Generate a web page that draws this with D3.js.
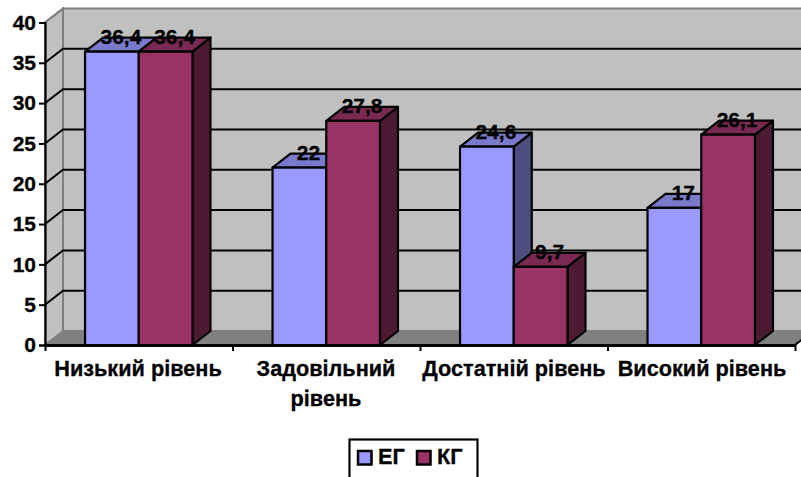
<!DOCTYPE html>
<html>
<head>
<meta charset="utf-8">
<script src="https://cdn.jsdelivr.net/npm/d3@7"></script>
<style>
html,body{margin:0;padding:0;background:#fff;overflow:hidden}
svg{display:block}
text{font-family:"Liberation Sans",Arial,sans-serif;font-weight:bold;fill:#000;stroke:#000;stroke-width:.3px}
</style>
</head>
<body>
<svg id="chart" width="801" height="477"></svg>
<script>
const categories = [["Низький рівень"], ["Задовільний", "рівень"], ["Достатній рівень"], ["Високий рівень"]];
const seriesNames = ["ЕГ", "КГ"];
const egValues = [36.4, 22, 24.6, 17];
const kgValues = [36.4, 27.8, 9.7, 26.1];
const valueLabels = [["36,4", "22", "24,6", "17"], ["36,4", "27,8", "9,7", "26,1"]];
const yTicks = [0, 5, 10, 15, 20, 25, 30, 35, 40];

const frontFill = ["#9999FF", "#993366"];
const topFill = ["#7A7ACC", "#7A2952"];
const sideFill = ["#4D4D80", "#4D1A33"];

const svg = d3.select("#chart");
const plotLeft = 45, plotRight = 795, plotBottom = 345, plotTop = 22.5;
const depthX = 18, depthY = -14;

const y = d3.scaleLinear().domain([0, 40]).range([plotBottom, plotTop]);
const x = d3.scaleBand().domain(d3.range(categories.length)).range([plotLeft, plotRight]).paddingInner(0.4269).paddingOuter(0.2135);
const inner = d3.scaleBand().domain([0, 1]).range([0, x.bandwidth()]);
const poly = pts => pts.map(p => p.join(",")).join(" ");

// Walls and floor of the 3D box
svg.append("polygon").attr("points", poly([[plotLeft + depthX, plotTop + depthY], [plotRight + depthX, plotTop + depthY], [plotRight + depthX, plotBottom + depthY], [plotLeft + depthX, plotBottom + depthY]]))
  .attr("fill", "#C0C0C0").attr("stroke", "#808080").attr("stroke-width", 2);
svg.append("polygon").attr("points", poly([[plotLeft, plotTop], [plotLeft + depthX, plotTop + depthY], [plotLeft + depthX, plotBottom + depthY], [plotLeft, plotBottom]]))
  .attr("fill", "#C0C0C0").attr("stroke", "#808080").attr("stroke-width", 2);
svg.append("polygon").attr("points", poly([[plotLeft, plotBottom], [plotLeft + depthX, plotBottom + depthY], [plotRight + depthX, plotBottom + depthY], [plotRight, plotBottom]]))
  .attr("fill", "#808080").attr("stroke", "#808080").attr("stroke-width", 1);

// Gridlines running along the side wall and across the back wall
const gridTicks = yTicks.filter(t => t > 0 && t < 40);
svg.append("g").selectAll("path").data(gridTicks).join("path")
  .attr("d", t => `M${plotLeft},${y(t)}L${plotLeft + depthX},${y(t) + depthY}L${plotRight + depthX},${y(t) + depthY}`)
  .attr("fill", "none").attr("stroke", "#000").attr("stroke-width", 2);
svg.append("path").attr("d", `M${plotLeft},${y(40)}L${plotLeft + depthX},${y(40) + depthY}`)
  .attr("fill", "none").attr("stroke", "#808080").attr("stroke-width", 2);

// Bars: series left to right within each category
const bars = svg.append("g").attr("stroke", "#000").attr("stroke-width", 2.2).attr("stroke-linejoin", "round");
[egValues, kgValues].forEach((vals, s) => {
  vals.forEach((v, i) => {
    const x0 = x(i) + inner(s), x1 = x0 + inner.bandwidth(), yt = y(v), yb = y(0);
    bars.append("polygon").attr("points", poly([[x1, yt], [x1 + depthX, yt + depthY], [x1 + depthX, yb + depthY], [x1, yb]])).attr("fill", sideFill[s]);
    bars.append("polygon").attr("points", poly([[x0, yt], [x0 + depthX, yt + depthY], [x1 + depthX, yt + depthY], [x1, yt]])).attr("fill", topFill[s]);
    bars.append("rect").attr("x", x0).attr("y", yt).attr("width", x1 - x0).attr("height", yb - yt).attr("fill", frontFill[s]);
  });
});

// Value labels sit over the top face of each bar
[egValues, kgValues].forEach((vals, s) => {
  svg.append("g").selectAll("text").data(vals).join("text")
    .attr("x", (v, i) => x(i) + inner(s) + inner.bandwidth() / 2 + 9)
    .attr("y", v => y(v) - 7.5)
    .attr("text-anchor", "middle").attr("font-size", 21)
    .text((v, i) => valueLabels[s][i]);
});

// Value axis
const yAxis = svg.append("g").attr("transform", `translate(${plotLeft},0)`)
  .call(d3.axisLeft(y).tickValues(yTicks).tickSize(6).tickPadding(3).tickFormat(d3.format("d")));
yAxis.select(".domain").attr("stroke", "#000").attr("stroke-width", 2.2);
yAxis.selectAll(".tick line").attr("stroke", "#000").attr("stroke-width", 2);
yAxis.selectAll("text").attr("font-size", 21).attr("font-family", '"Liberation Sans",Arial,sans-serif').attr("font-weight", "bold").attr("fill", "#000");

// Category axis with ticks on the group boundaries
const edge = d3.scaleLinear().domain([0, categories.length]).range([plotLeft, plotRight]);
const xAxis = svg.append("g").attr("transform", `translate(0,${plotBottom})`)
  .call(d3.axisBottom(edge).tickValues(d3.range(categories.length + 1)).tickSize(6).tickSizeOuter(0).tickFormat(""));
xAxis.select(".domain").attr("stroke", "#000").attr("stroke-width", 3);
xAxis.selectAll(".tick line").attr("stroke", "#000").attr("stroke-width", 2);
svg.append("path").attr("d", `M${plotRight},${plotBottom}L${plotRight + depthX},${plotBottom + depthY}`).attr("stroke", "#000").attr("stroke-width", 2);

// Category labels
const labelCenters = [138, 326, 514, 702];
const catLabels = svg.append("g").selectAll("text").data(categories).join("text")
  .attr("text-anchor", "middle").attr("font-size", 21.7)
  .attr("y", 376);
catLabels.each(function (lines, i) {
  d3.select(this).selectAll("tspan").data(lines).join("tspan")
    .attr("x", labelCenters[i]).attr("dy", (d, k) => k ? 30 : 0).text(d => d);
});

// Legend, running off the lower edge of the canvas
const legend = svg.append("g");
legend.append("rect").attr("x", 349.5).attr("y", 439.5).attr("width", 128).attr("height", 60)
  .attr("fill", "#fff").attr("stroke", "#000").attr("stroke-width", 2.2);
const legendX = [358, 417];
seriesNames.forEach((name, s) => {
  legend.append("rect").attr("x", legendX[s]).attr("y", 451).attr("width", 13.5).attr("height", 13.5)
    .attr("fill", frontFill[s]).attr("stroke", "#000").attr("stroke-width", 2.5);
  legend.append("text").attr("x", legendX[s] + 20).attr("y", 464).attr("font-size", 21.7).text(name);
});
</script>
</body>
</html>
